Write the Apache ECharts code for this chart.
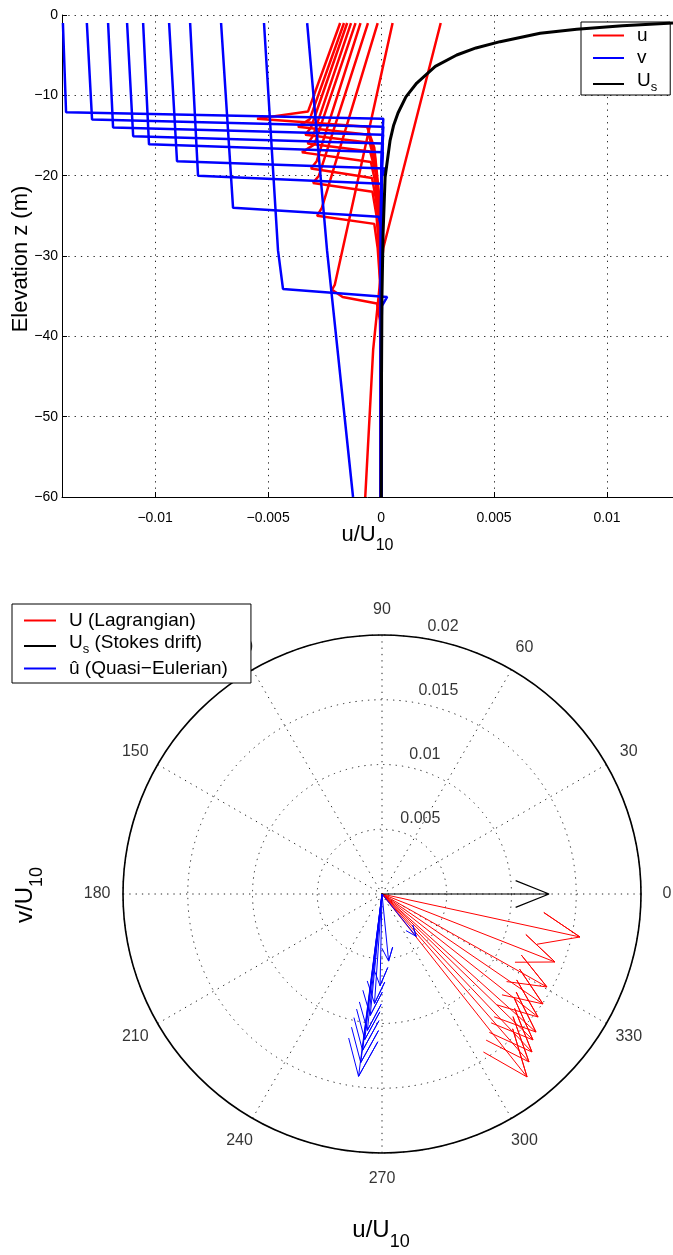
<!DOCTYPE html>
<html>
<head>
<meta charset="utf-8">
<script src="https://cdn.jsdelivr.net/npm/echarts@6/dist/echarts.min.js"></script>
<style>
html, body { margin: 0; padding: 0; background: #ffffff; }
#chart { width: 673px; height: 1255px; }
</style>
</head>
<body>
<div id="chart"></div>
<script>
// ---------- vertical profiles: [value / U10, elevation z (m)] ----------
// one profile per mixed-layer case (base at 12, 13, 14, 15, 16, 18, 20, 24, 34 m, and one deeper than 60 m)
const uProfiles = [
  [[-0.00181, -1], [-0.00323, -12.0], [-0.00549, -12.9], [-0.00062, -13.9], [-0.00030, -16.5], [-0.00010, -22], [0, -30], [0, -60]],
  [[-0.00164, -1], [-0.00316, -13.0], [-0.00368, -13.9], [-0.00055, -14.9], [-0.00028, -17.5], [-0.00010, -23], [0, -31], [0, -60]],
  [[-0.00150, -1], [-0.00310, -14.0], [-0.00335, -14.9], [-0.00050, -15.9], [-0.00026, -18.5], [-0.00009, -24], [0, -32], [0, -60]],
  [[-0.00133, -1], [-0.00302, -15.1], [-0.00325, -16.0], [-0.00048, -17.0], [-0.00025, -19.5], [-0.00009, -25], [0, -33], [0, -60]],
  [[-0.00113, -1], [-0.00295, -16.1], [-0.00350, -17.1], [-0.00045, -18.3], [-0.00024, -21.0], [-0.00008, -26], [0, -34], [0, -60]],
  [[-0.00091, -1], [-0.00285, -18.2], [-0.00310, -19.1], [-0.00040, -20.3], [-0.00022, -23.0], [-0.00008, -28], [0, -36], [0, -60]],
  [[-0.00058, -1], [-0.00275, -20.0], [-0.00301, -20.9], [-0.00038, -22.0], [-0.00020, -25.0], [-0.00007, -30], [0, -37], [0, -60]],
  [[-0.00015, -1], [-0.00262, -24.0], [-0.00283, -25.0], [-0.00030, -26.0], [-0.00015, -29.0], [-0.00005, -33], [0, -40], [0, -60]],
  [[0.00051, -1], [-0.00205, -33.6], [-0.00217, -34.2], [-0.00170, -35.1], [-0.00018, -35.9], [-0.00005, -38], [0, -45], [0, -60]],
  [[0.00264, -1], [0.00010, -29.0], [0.00000, -32.0], [-0.00035, -41.7], [-0.00070, -60]]
];

const vProfiles = [
  [[-0.01408, -1], [-0.01394, -12.1], [0.00010, -12.9], [0.00008, -14.0], [0.00003, -17], [0, -23], [0, -60]],
  [[-0.01302, -1], [-0.01279, -13.0], [0.00010, -13.9], [0.00008, -15.0], [0.00003, -18], [0, -24], [0, -60]],
  [[-0.01208, -1], [-0.01186, -14.0], [0.00009, -14.9], [0.00007, -16.0], [0.00002, -19], [0, -25], [0, -60]],
  [[-0.01124, -1], [-0.01097, -15.1], [0.00008, -16.0], [0.00006, -17.0], [0.00002, -20], [0, -26], [0, -60]],
  [[-0.01053, -1], [-0.01027, -16.1], [0.00008, -17.1], [0.00006, -18.1], [0.00002, -21], [0, -27], [0, -60]],
  [[-0.00938, -1], [-0.00903, -18.2], [0.00018, -19.1], [0.00004, -20.1], [0.00002, -23], [0, -29], [0, -60]],
  [[-0.00845, -1], [-0.00810, -20.0], [0.00004, -21.0], [0.00003, -22.5], [0, -30], [0, -60]],
  [[-0.00708, -1], [-0.00655, -24.0], [-0.00010, -25.1], [0.00002, -26.5], [0, -32], [0, -60]],
  [[-0.00518, -1], [-0.00456, -29.3], [-0.00434, -34.1], [0.00027, -35.1], [0.00004, -36.2], [0, -42], [0, -60]],
  [[-0.00327, -1], [-0.00239, -29.3], [-0.00124, -60]]
];

const stokesProfile = [
  [0.01292, -1], [0.01068, -1.35], [0.00866, -1.78], [0.00704, -2.28], [0.00527, -3.32],
  [0.00420, -4.1], [0.00335, -4.98], [0.00240, -6.4], [0.00158, -8.47], [0.00110, -10.2],
  [0.00075, -12.2], [0.00055, -13.8], [0.00040, -15.6], [0.00018, -20.2], [0.00009, -27.1],
  [0.00004, -35], [0.00002, -45], [0.00001, -60]
];

const profileXTicks = [-0.01, -0.005, 0, 0.005, 0.01];
const profileXRange = [-0.01412, 0.01292];
const depthRange = [-60, 0];

// ---------- surface current vectors (u, v) / U10 ----------
const lagrangianU = [0.01529, 0.01336, 0.01274, 0.01243, 0.01205, 0.01189, 0.01166, 0.01158, 0.01135, 0.01120];
const lagrangianV = [-0.00332, -0.00525, -0.00718, -0.00849, -0.00950, -0.01066, -0.01127, -0.01220, -0.01297, -0.01413];
const eulerianU = [0.00264, 0.00051, -0.00015, -0.00058, -0.00091, -0.00113, -0.00133, -0.00150, -0.00164, -0.00181];
const eulerianV = [-0.00327, -0.00518, -0.00708, -0.00845, -0.00938, -0.01053, -0.01124, -0.01208, -0.01302, -0.01408];
const stokesU = [0.0129];
const stokesV = [0];

const angleTicks = [0, 30, 60, 90, 120, 150, 180, 210, 240, 270, 300, 330];
const radiusTicks = [0.005, 0.01, 0.015, 0.02];
const radiusMax = 0.02;

// ---------- styling ----------
const FONT = 'Liberation Sans, Arial, Helvetica, sans-serif';
const RED = '#ff0000', BLUE = '#0000ff', BLACK = '#000000';
const dotted = { color: '#262626', width: 1, type: [1.3, 5] };
const minus = s => String(s).replace('-', '\u2212');

// compass-style arrow: shaft plus two barbs at 0.8 of the length, 0.08 sideways
function arrowPath(u, v) {
  const r = Math.hypot(u, v);
  const th = Math.atan2(v, u) * 180 / Math.PI;
  const rh = 0.8 * r * Math.hypot(1, 0.1);
  const dth = Math.atan(0.1) * 180 / Math.PI;
  const norm = a => ((a % 360) + 360) % 360;
  return [[0, 0], [r, norm(th)], [rh, norm(th + dth)], [r, norm(th)], [rh, norm(th - dth)]];
}

const series = [];

uProfiles.forEach(p => series.push({
  name: 'u', type: 'line', xAxisIndex: 0, yAxisIndex: 0, data: p,
  symbol: 'none', silent: true, lineStyle: { color: RED, width: 2.5 }, itemStyle: { color: RED }, z: 2
}));
vProfiles.forEach(p => series.push({
  name: 'v', type: 'line', xAxisIndex: 0, yAxisIndex: 0, data: p,
  symbol: 'none', silent: true, lineStyle: { color: BLUE, width: 2.5 }, itemStyle: { color: BLUE }, z: 3
}));
series.push({
  name: 'Us', type: 'line', xAxisIndex: 0, yAxisIndex: 0, data: stokesProfile,
  symbol: 'none', silent: true, lineStyle: { color: BLACK, width: 3 }, itemStyle: { color: BLACK }, z: 4
});

lagrangianU.forEach((u, i) => series.push({
  name: 'U (Lagrangian)', type: 'line', coordinateSystem: 'polar', polarIndex: 0,
  data: arrowPath(u, lagrangianV[i]), symbol: 'none', silent: true,
  lineStyle: { color: RED, width: 1 }, itemStyle: { color: RED }, z: 2
}));
stokesU.forEach((u, i) => series.push({
  name: 'Us (Stokes drift)', type: 'line', coordinateSystem: 'polar', polarIndex: 0,
  data: arrowPath(u, stokesV[i]), symbol: 'none', silent: true,
  lineStyle: { color: BLACK, width: 1.2 }, itemStyle: { color: BLACK }, z: 3
}));
eulerianU.forEach((u, i) => series.push({
  name: 'û (Quasi\u2212Eulerian)', type: 'line', coordinateSystem: 'polar', polarIndex: 0,
  data: arrowPath(u, eulerianV[i]), symbol: 'none', silent: true,
  lineStyle: { color: BLUE, width: 1 }, itemStyle: { color: BLUE }, z: 4
}));

// angle tick labels, centred at 1.1 x the outer radius
series.push({
  type: 'scatter', coordinateSystem: 'polar', polarIndex: 0, clip: false, silent: true,
  symbolSize: 1, itemStyle: { color: 'rgba(0,0,0,0)' },
  data: angleTicks.map(a => [radiusMax * 1.1, a]),
  label: {
    show: true, position: 'inside', color: '#000', fontFamily: FONT, fontSize: 16,
    formatter: p => String(angleTicks[p.dataIndex])
  }, z: 1
});
// ring labels along the 82 degree direction
series.push({
  type: 'scatter', coordinateSystem: 'polar', polarIndex: 0, clip: false, silent: true,
  symbolSize: 1, itemStyle: { color: 'rgba(0,0,0,0)' },
  data: radiusTicks.map(r => [r + 0.00025, 82]),
  label: {
    show: true, position: 'inside', align: 'left', verticalAlign: 'bottom',
    color: '#000', fontFamily: FONT, fontSize: 16,
    formatter: p => '  ' + String(radiusTicks[p.dataIndex])
  }, z: 1
});

// rich-text styles: p = plain legend text, a0 = first token of a subscripted entry,
// a = plain token on the same line, s = subscript dropped below the baseline
function richSet(big, small) {
  const base = { fontSize: big, fontFamily: FONT, color: '#000' };
  return {
    p: Object.assign({}, base, { lineHeight: Math.round(big * 1.05), padding: [0, 0, 0, 8] }),
    a0: Object.assign({}, base, { verticalAlign: 'bottom', lineHeight: Math.round(big * 1.05), padding: [0, 0, Math.round(big * 0.22), 8] }),
    a: Object.assign({}, base, { verticalAlign: 'bottom', lineHeight: Math.round(big * 1.05), padding: [0, 0, Math.round(big * 0.22), 0] }),
    s: { fontSize: small, fontFamily: FONT, color: '#000', verticalAlign: 'bottom', lineHeight: small }
  };
}
function labelRich(big, small, drop) {
  return {
    a: { fontSize: big, fontFamily: FONT, color: '#000', verticalAlign: 'bottom', lineHeight: Math.round(big * 1.1), padding: [0, 0, drop, 0] },
    s: { fontSize: small, fontFamily: FONT, color: '#000', verticalAlign: 'bottom', lineHeight: small }
  };
}

const option = {
  animation: false,
  backgroundColor: '#ffffff',
  grid: [{ left: 62, top: 15, width: 611, height: 482, containLabel: false, outerBoundsMode: 'none' }],
  xAxis: [{
    type: 'value', gridIndex: 0, min: profileXRange[0], max: profileXRange[1],
    axisLine: { onZero: false, lineStyle: { color: '#000', width: 1 } },
    axisTick: { show: true, inside: true, length: 5, customValues: profileXTicks, lineStyle: { color: '#000' } },
    axisLabel: { customValues: profileXTicks, color: '#000', fontFamily: FONT, fontSize: 14, margin: 14, formatter: v => minus(v) },
    splitLine: { show: true, lineStyle: dotted }
  }],
  yAxis: [{
    type: 'value', gridIndex: 0, min: depthRange[0], max: depthRange[1], interval: 10,
    axisLine: { onZero: false, lineStyle: { color: '#000', width: 1 } },
    axisTick: { show: true, inside: true, length: 5, lineStyle: { color: '#000' } },
    axisLabel: { color: '#000', fontFamily: FONT, fontSize: 14, margin: 4, formatter: v => minus(v) },
    splitLine: { show: true, lineStyle: dotted }
  }],
  polar: [{ center: [382, 894], radius: 259 }],
  angleAxis: [{
    polarIndex: 0, type: 'value', min: 0, max: 360, interval: 30, startAngle: 0, clockwise: false,
    axisLine: { show: true, lineStyle: { color: '#000', width: 1.6 } },
    axisTick: { show: false }, axisLabel: { show: false },
    splitLine: { show: true, lineStyle: dotted }
  }],
  radiusAxis: [{
    polarIndex: 0, type: 'value', min: 0, max: radiusMax, interval: 0.005,
    axisLine: { show: false }, axisTick: { show: false }, axisLabel: { show: false },
    splitLine: { show: true, lineStyle: dotted }
  }],
  legend: [{
    data: ['u', 'v', 'Us'], orient: 'vertical', left: 581, top: 22, selectedMode: false,
    backgroundColor: '#fff', borderColor: '#000', borderWidth: 1, borderRadius: 0,
    padding: [4, 13, 1, 11], itemWidth: 31, itemHeight: 20, itemGap: 3.5,
    itemStyle: { opacity: 0 },
    formatter: n => n === 'Us' ? '{a0|U}{s|s}' : '{p|' + n + '}',
    textStyle: { color: '#000', fontFamily: FONT, fontSize: 19, rich: richSet(19, 13) }
  }, {
    data: ['U (Lagrangian)', 'Us (Stokes drift)', 'û (Quasi\u2212Eulerian)'],
    orient: 'vertical', left: 12, top: 604, selectedMode: false,
    backgroundColor: '#fff', borderColor: '#000', borderWidth: 1, borderRadius: 0,
    padding: [7, 23, 5, 11], itemWidth: 32, itemHeight: 20, itemGap: 3,
    itemStyle: { opacity: 0 },
    formatter: n => n === 'Us (Stokes drift)' ? '{a0|U}{s|s}{a| (Stokes drift)}' : '{p|' + n + '}',
    textStyle: { color: '#000', fontFamily: FONT, fontSize: 19, rich: richSet(19, 13) }
  }],
  graphic: [
    // axis titles of the profile panel
    {
      type: 'text', x: 21, y: 259, rotation: Math.PI / 2, silent: true,
      style: { text: 'Elevation z (m)', fontFamily: FONT, fontSize: 22, fill: '#000', align: 'center', verticalAlign: 'middle' }
    },
    {
      type: 'text', x: 367.5, y: 542, silent: true,
      style: { text: '{a|u/U}{s|10}', rich: labelRich(22, 16, 8), align: 'center', verticalAlign: 'middle' }
    },
    // axis titles of the compass panel
    {
      type: 'text', x: 33, y: 895, rotation: Math.PI / 2, silent: true,
      style: { text: '{a|v/U}{s|10}', rich: labelRich(24, 18, 9), align: 'center', verticalAlign: 'middle' }
    },
    {
      type: 'text', x: 381, y: 1238, silent: true,
      style: { text: '{a|u/U}{s|10}', rich: labelRich(24, 18, 9), align: 'center', verticalAlign: 'middle' }
    }
  ],
  series: series
};

const chart = echarts.init(document.getElementById('chart'), null, { renderer: 'canvas' });
chart.setOption(option);
</script>
</body>
</html>
